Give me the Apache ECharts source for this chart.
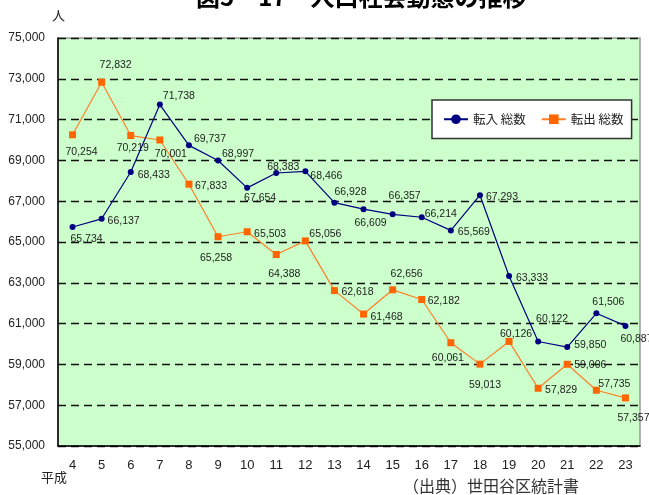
<!DOCTYPE html>
<html>
<head>
<meta charset="utf-8">
<script src="https://cdn.jsdelivr.net/npm/echarts@6/dist/echarts.min.js"></script>
<style>html,body{margin:0;padding:0;background:#fff;}#c{width:649px;height:495px;}</style>
</head>
<body>
<div id="c"></div>
<script>
const categories = ['4','5','6','7','8','9','10','11','12','13','14','15','16','17','18','19','20','21','22','23'];
const tennyu = [65734, 66137, 68433, 71738, 69737, 68997, 67654, 68383, 68466, 66928, 66609, 66357, 66214, 65569, 67293, 63333, 60122, 59850, 61506, 60887];
const tenshutsu = [70254, 72832, 70219, 70001, 67833, 65258, 65503, 64388, 65056, 62618, 61468, 62656, 62182, 60061, 59013, 60126, 57829, 59006, 57735, 57357];
const seriesNames = ['転入 総数', '転出 総数'];

// label offsets (layout only)
const offIn = [[14,12],[22,2],[23,3],[19,-8],[21,-6],[20,-6],[13,10],[7,-6],[21,5],[16,-11],[7,14],[12,-18],[19,-3],[23,2],[22,2],[23,2],[14,-22],[23,-2],[12,-11],[11,13]];
const offOut = [[9,17],[14,-17],[2,13],[11,14],[22,2],[-2,21],[23,2],[8,20],[20,-7],[23,2],[23,3],[14,-16],[22,2],[-3,15],[5,21],[7,-7],[23,2],[23,1],[18,-6],[8,20]];

const fmt = v => v.toLocaleString('en-US');
function build(vals, offs){
  return vals.map((v,i)=>({value:v, label:{offset:offs[i]}}));
}
const labelStyle = {show:true, position:'inside', color:'#222', fontSize:10.5, fontFamily:'Liberation Sans, Arial, sans-serif', formatter:p=>fmt(p.value)};

const chart = echarts.init(document.getElementById('c'), null, {renderer:'canvas'});
chart.setOption({
  animation:false,
  backgroundColor:'#fff',
  title:{text:'図5－17　人口社会動態の推移', left:191, top:-20, textStyle:{fontSize:24, fontWeight:'bold', color:'#000', fontFamily:'Noto Sans CJK JP'}},
  graphic:[
    {type:'text', left:52, top:9, style:{text:'人', fontSize:13, fill:'#222', fontFamily:'Noto Sans CJK JP'}},
    {type:'text', left:41, top:471, style:{text:'平成', fontSize:13, fill:'#222', fontFamily:'Noto Sans CJK JP'}},
    {type:'text', left:403, top:478, style:{text:'（出典）世田谷区統計書', fontSize:16, fill:'#333', fontFamily:'Noto Sans CJK JP'}}
  ],
  legend:{
    left:432, top:100, orient:'horizontal',
    backgroundColor:'#fff', borderColor:'#333', borderWidth:1.5,
    padding:[13,8,13,11], itemWidth:24, itemHeight:12, itemGap:15,
    textStyle:{fontSize:12.5, color:'#222', fontFamily:'Noto Sans CJK JP'},
    data:seriesNames
  },
  grid:{left:58, right:9, top:38, bottom:49, show:true, backgroundColor:'#CCFFCC', borderColor:'#999', borderWidth:1.5},
  xAxis:{
    type:'category', data:categories, boundaryGap:true,
    axisLine:{lineStyle:{color:'#000', width:1.5}},
    axisTick:{inside:true, length:4, lineStyle:{color:'#000'}},
    axisLabel:{fontSize:13, color:'#222', margin:13, fontFamily:'Liberation Sans, Arial, sans-serif'}
  },
  yAxis:{
    type:'value', min:55000, max:75000, interval:2000,
    axisLine:{show:true, lineStyle:{color:'#000', width:1.5}},
    axisTick:{show:false},
    axisLabel:{fontSize:12, color:'#222', margin:13, formatter:v=>fmt(v), fontFamily:'Liberation Sans, Arial, sans-serif'},
    splitLine:{show:true, lineStyle:{color:'#111', width:1.3, type:[8,5]}}
  },
  series:[
    {name:seriesNames[0], type:'line', data:build(tennyu, offIn), symbol:'circle', symbolSize:6,
     itemStyle:{color:'#000080'}, lineStyle:{color:'#000080', width:1.2}, label:labelStyle, z:3},
    {name:seriesNames[1], type:'line', data:build(tenshutsu, offOut), symbol:'rect', symbolSize:7,
     itemStyle:{color:'#FF6600'}, lineStyle:{color:'#FF7F27', width:1.2}, label:labelStyle, z:2}
  ]
});
</script>
</body>
</html>
